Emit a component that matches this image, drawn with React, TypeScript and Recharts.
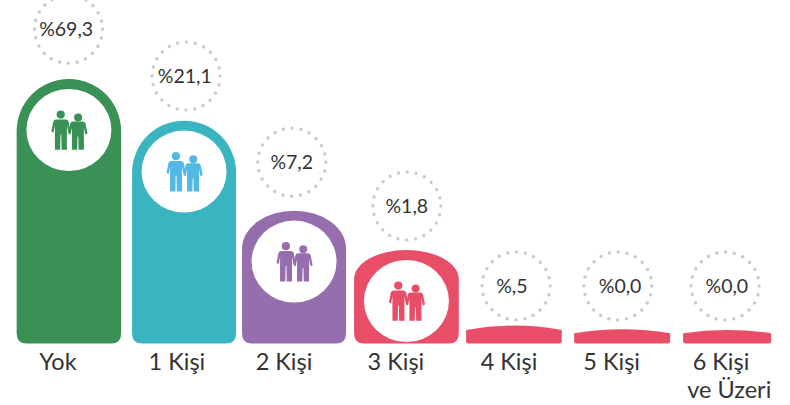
import { BarChart, Bar, XAxis, YAxis, LabelList } from "recharts";

const categories = ["Yok", "1 Kişi", "2 Kişi", "3 Kişi", "4 Kişi", "5 Kişi", "6 Kişi|ve Üzeri"];
const shareLabels = ["%69,3", "%21,1", "%7,2", "%1,8", "%,5", "%0,0", "%0,0"];
// the picture's bars are not proportional to the shares, so heights are read off it
const barHeights = [264.6, 223, 133, 93.6, 18, 13.6, 13.6];

const data = categories.map((name, i) => ({ name, height: barHeights[i], label: shareLabels[i] }));

const BAR_COLORS = ["#3A9156", "#39B4C0", "#966EAE", "#E94E69", "#E94E69", "#E94E69", "#E94E69"];
const ICON_COLORS = ["#3A9156", "#54B8E5", "#966EAE", "#E94E69"];

// the original is hand-placed, these are small corrections around the even band positions
const BAR_DX = [-4.55, 0.97, 1.3, 4.04, 1.88, 0.42, -4.24];
const BAR_W = [104.5, 104, 104, 104.7, 95.7, 96, 88];
const ARC_X = [52.2, 52, 52, 52.3, 270, 300, 300];
const ARC_Y = [52.2, 52, 38, 29, 270, 300, 300];
const SHOULDER = [52.2, 52, 38, 29, 4.3, 3.2, 3.2];
const FOOT_R = [10, 10, 10, 10, 2, 2, 2];
const RING_DX = [-4.95, 2.97, -1, 4.44, 4.08, -3.88, -6.24];
const RING_DY = [49.7, 44.5, 48.4, 44, 39.7, 44, 44];
const TEXT_DX = [-7.3, 1.7, -1, 4.44, -0.2, -1.6, -4.5];
const TICK_DX = [-15.3, -6, -8.6, -6.3, -2.9, -9.9, -10.2];

const FONT = "Lato, 'Open Sans', sans-serif";

function personPath(s: number, b: number) {
  return `M-5 ${s}L5 ${s}Q7 ${s} 7.6 ${s + 2}L9.6 ${s + 12}L7.4 ${s + 13}L6 ${s + 6}L6 ${b}L0.7 ${b}L0.4 ${s + 15}L-0.4 ${s + 15}L-0.7 ${b}L-6 ${b}L-6 ${s + 6}L-7.4 ${s + 13}L-9.6 ${s + 12}L-7.6 ${s + 2}Q-7 ${s} -5 ${s}Z`;
}

function People({ cx, cy, color }: { cx: number; cy: number; color: string }) {
  return (
    <g transform={`translate(${cx},${cy})`} fill={color}>
      <circle cx={-8.2} cy={-15.8} r={4.1} />
      <path transform="translate(-8,0)" d={personPath(-11, 19.4)} />
      <circle cx={9.2} cy={-12.8} r={4} />
      <path transform="translate(9,0)" d={personPath(-8.8, 19.4)} />
    </g>
  );
}

function BarShape(props: any) {
  const { x, y, width, height, index } = props;
  const w = BAR_W[index];
  const left = x + width / 2 + BAR_DX[index] - w / 2;
  const right = left + w;
  const bottom = y + height;
  const r = FOOT_R[index];
  const sh = y + SHOULDER[index];
  const d = `M${left} ${sh}A${ARC_X[index]} ${ARC_Y[index]} 0 0 1 ${right} ${sh}L${right} ${bottom - r}Q${right} ${bottom} ${right - r} ${bottom}L${left + r} ${bottom}Q${left} ${bottom} ${left} ${bottom - r}Z`;
  const cx = left + w / 2;
  const cy = y + 51;
  return (
    <g>
      <path d={d} fill={BAR_COLORS[index]} />
      {index < 4 && (
        <>
          <ellipse cx={cx} cy={cy} rx={42.5} ry={41} fill="#fff" />
          <People cx={cx} cy={cy + 0.4} color={ICON_COLORS[index]} />
        </>
      )}
    </g>
  );
}

function RingLabel(props: any) {
  const { x, y, width, value, index } = props;
  const mid = x + width / 2;
  const cy = y - RING_DY[index];
  return (
    <g>
      <circle cx={mid + RING_DX[index]} cy={cy} r={34} fill="none" stroke="#CBCBCB" strokeWidth={3.4} strokeLinecap="round" strokeDasharray="0.01 8.9" />
      <text x={mid + TEXT_DX[index]} y={cy + 7} textAnchor="middle" fontFamily={FONT} fontSize={19.5} fontWeight={400} fill="#333">
        {value}
      </text>
    </g>
  );
}

function CategoryTick(props: any) {
  const { x, index, payload } = props;
  const lines = String(payload.value).split("|");
  return (
    <g>
      <text x={x + TICK_DX[index]} y={370} textAnchor="middle" fontFamily={FONT} fontSize={23.5} fontWeight={400} fill="#333">
        {lines[0]}
      </text>
      {lines[1] && (
        <text x={x + TICK_DX[index] + 8.3} y={398} textAnchor="middle" fontFamily={FONT} fontSize={23.5} fontWeight={400} fill="#333">
          {lines[1]}
        </text>
      )}
    </g>
  );
}

export default function App() {
  return (
    <div style={{ position: "absolute", left: 0, top: 0 }}>
      <BarChart width={790} height={405} data={data} barCategoryGap={0} margin={{ top: 0, right: 4, bottom: 0, left: 18.45 }}>
        <XAxis dataKey="name" height={61.4} axisLine={false} tickLine={false} interval={0} tick={CategoryTick} />
        <YAxis hide domain={[0, 343.6]} />
        <Bar dataKey="height" shape={BarShape} isAnimationActive={false}>
          <LabelList dataKey="label" content={RingLabel} />
        </Bar>
      </BarChart>
    </div>
  );
}
